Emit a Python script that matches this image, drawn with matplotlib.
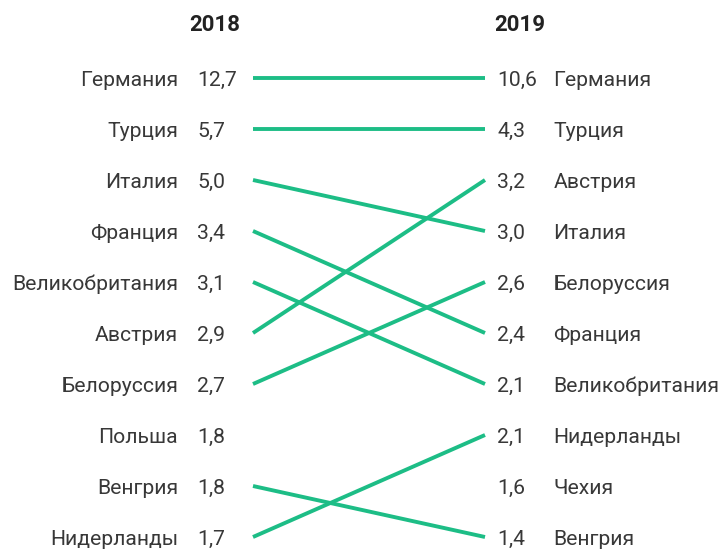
import matplotlib
matplotlib.use("Agg")
import matplotlib.pyplot as plt

years = ["2018", "2019"]
countries_2018 = ["Германия", "Турция", "Италия", "Франция", "Великобритания",
                  "Австрия", "Белоруссия", "Польша", "Венгрия", "Нидерланды"]
values_2018 = [12.7, 5.7, 5.0, 3.4, 3.1, 2.9, 2.7, 1.8, 1.8, 1.7]
countries_2019 = ["Германия", "Турция", "Австрия", "Италия", "Белоруссия",
                  "Франция", "Великобритания", "Нидерланды", "Чехия", "Венгрия"]
values_2019 = [10.6, 4.3, 3.2, 3.0, 2.6, 2.4, 2.1, 2.1, 1.6, 1.4]

GREEN = "#1dbd86"
TEXT = "#383838"
FONT = ["Roboto", "DejaVu Sans"]

def fmt(v):
    return f"{v:.1f}".replace(".", ",")

fig = plt.figure(figsize=(7.22, 5.49), dpi=100)
ax = fig.add_axes([0, 0, 1, 1])
ax.set_xlim(-253 / 232, (722 - 253) / 232)
ax.set_ylim((549 - 78) / 51, -78 / 51)
ax.axis("off")

fs = 15.2
dy = 0.05
for i, (c, v) in enumerate(zip(countries_2018, values_2018)):
    ax.text(-0.323, i + dy, c, ha="right", va="center", fontsize=fs, color=TEXT, family=FONT)
    ax.text(-0.241, i + dy, fmt(v), ha="left", va="center", fontsize=fs, color=TEXT, family=FONT)
for i, (c, v) in enumerate(zip(countries_2019, values_2019)):
    ax.text(1.052, i + dy, fmt(v), ha="left", va="center", fontsize=fs, color=TEXT, family=FONT)
    ax.text(1.295, i + dy, c, ha="left", va="center", fontsize=fs, color=TEXT, family=FONT)

for i, c in enumerate(countries_2018):
    if c in countries_2019:
        j = countries_2019.index(c)
        ax.plot([0, 1], [i, j], color=GREEN, lw=2.8, solid_capstyle="butt")

ax.text(-0.164, -1.04, years[0], ha="center", va="center", fontsize=16,
        fontweight="bold", color="#222222", family=FONT)
ax.text(1.151, -1.04, years[1], ha="center", va="center", fontsize=16,
        fontweight="bold", color="#222222", family=FONT)

fig.savefig("out.png", dpi=100, facecolor="white")
